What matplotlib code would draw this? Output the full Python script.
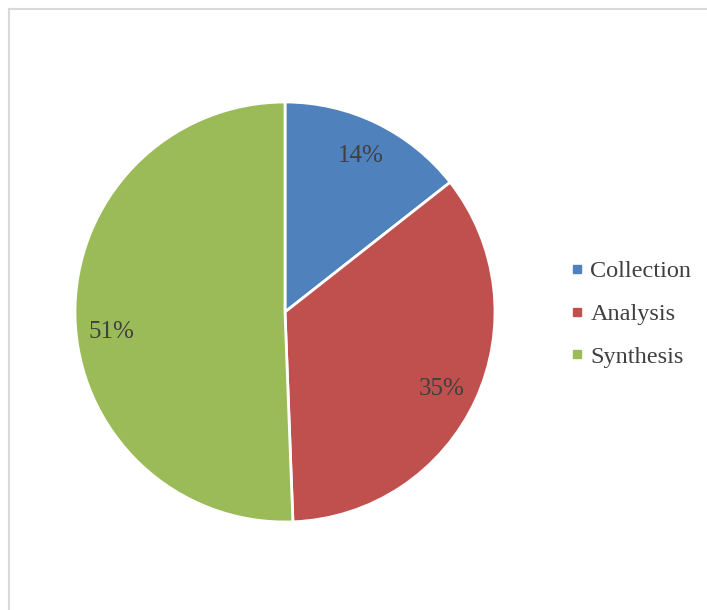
import numpy as np
import matplotlib.pyplot as plt
from matplotlib.lines import Line2D

labels = ['Collection', 'Analysis', 'Synthesis']
values = [14.4, 35.0, 50.6]
colors = ['#4f81bd', '#c0504d', '#9bbb59']

plt.rcParams['font.family'] = ['Liberation Serif', 'DejaVu Serif']

fig = plt.figure(figsize=(7.07, 6.10), dpi=100)

# thin grey frame (top and left edges visible)
fig.add_artist(Line2D([9 / 707, 1], [1 - 9 / 610, 1 - 9 / 610], transform=fig.transFigure,
                      color='#d9d9d9', lw=1.5))
fig.add_artist(Line2D([9 / 707, 9 / 707], [0, 1 - 9 / 610], transform=fig.transFigure,
                      color='#d9d9d9', lw=1.5))

ax = fig.add_axes([75 / 707, 88 / 610, 420 / 707, 420 / 610])
wedges, texts, autotexts = ax.pie(values, colors=colors, startangle=90, counterclock=False,
                                  autopct='%1.0f%%', pctdistance=0.82,
                                  wedgeprops=dict(edgecolor='white', linewidth=2),
                                  textprops=dict(color='#404040', fontsize=18))
ax.set_xlim(-1, 1)
ax.set_ylim(-1, 1)
ax.set_aspect('equal')

# nudge labels like the spreadsheet's placement (angle offset in degrees, radius)
nudges = [(0, 0.825), (-1.5, 0.83), (5.5, 0.83)]
for t, (d, r) in zip(autotexts, nudges):
    x, y = t.get_position()
    a = np.arctan2(y, x) + np.radians(d)
    t.set_position((r * np.cos(a), r * np.sin(a)))

handles = [Line2D([], [], marker='s', linestyle='none', markersize=6, color=c) for c in colors]
fig.legend(handles, labels, loc='center left', bbox_to_anchor=(571 / 707, 1 - 314 / 610),
           frameon=False, fontsize=17.5, labelcolor='#404040', handlelength=0.5,
           handletextpad=0.3, labelspacing=0.85, borderpad=0, borderaxespad=0)

fig.savefig('out.png', dpi=100)
